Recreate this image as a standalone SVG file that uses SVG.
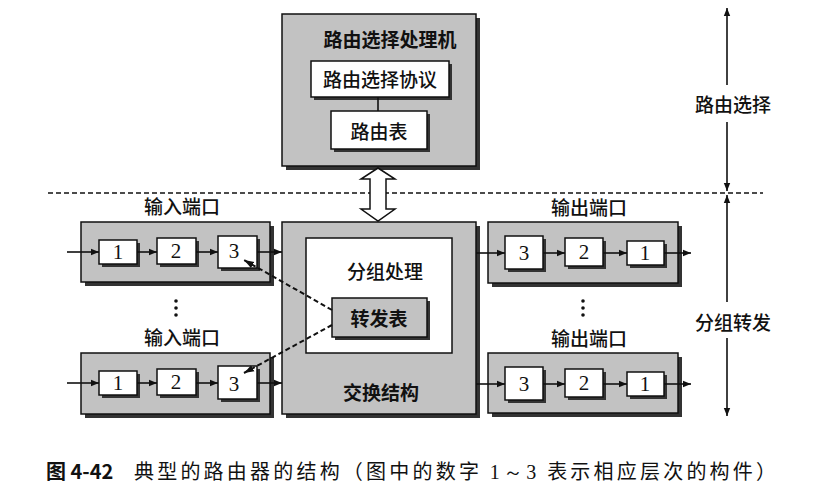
<svg xmlns="http://www.w3.org/2000/svg" width="827" height="500" viewBox="0 0 827 500">
<style>
.bg{fill:#c2c2c2;stroke:#111;stroke-width:1.5}
.sh{fill:#333}
.wb{fill:#fff;stroke:#111;stroke-width:1.5}
.gb{fill:#c2c2c2;stroke:#111;stroke-width:1.5}
.ln{stroke:#111;stroke-width:1.6;fill:none}
.dash{stroke:#111;stroke-width:2;stroke-dasharray:5 3;fill:none}
.hd{stroke:#111;stroke-width:1.3;stroke-dasharray:5 3;fill:none}
.t{font-family:"Noto Sans CJK SC","Noto Sans",sans-serif;font-size:19px;fill:#111;text-anchor:middle;font-weight:500}
.tb{font-family:"Noto Sans CJK SC","Noto Sans",sans-serif;font-size:19px;fill:#111;text-anchor:middle;font-weight:bold}
.n{font-family:"Liberation Serif",serif;font-size:21px;fill:#111;text-anchor:middle}
.cap{font-family:"Noto Sans CJK SC","Noto Sans",sans-serif;font-size:20px;fill:#111}
</style>
<defs>
<marker id="ar" viewBox="0 0 10 10" refX="10" refY="5" markerWidth="8" markerHeight="8" markerUnits="userSpaceOnUse" orient="auto">
<path d="M0,1 L10,5 L0,9 z" fill="#111"/>
</marker>
<marker id="ar2" viewBox="0 0 10 10" refX="10" refY="5" markerWidth="10" markerHeight="10" markerUnits="userSpaceOnUse" orient="auto">
<path d="M0,1.5 L10,5 L0,8.5 z" fill="#111"/>
</marker>
</defs>
<rect width="827" height="500" fill="#fff"/>

<!-- Routing processor -->
<g id="routing-processor">
<rect class="sh" x="286" y="18" width="194" height="152"/>
<rect class="bg" x="282" y="14" width="194" height="152"/>
<text class="tb" x="390" y="47">路由选择处理机</text>
</g>
<g id="routing-protocol">
<rect class="sh" x="314" y="64" width="138" height="36"/>
<rect class="wb" x="311" y="61" width="138" height="36"/>
<text class="t" x="380" y="87">路由选择协议</text>
</g>
<g id="routing-table">
<rect class="sh" x="334" y="114" width="96" height="38"/>
<rect class="wb" x="331" y="111" width="96" height="38"/>
<text class="t" x="379" y="139">路由表</text>
</g>

<!-- Switch fabric -->
<g id="switch-fabric">
<rect class="sh" x="286" y="226" width="194" height="192"/>
<rect class="bg" x="282" y="222" width="194" height="192"/>
<text class="tb" x="381" y="400">交换结构</text>
</g>
<g id="packet-processing">
<rect class="wb" x="306" y="238" width="146" height="115"/>
<text class="t" x="385" y="279">分组处理</text>
</g>
<g id="forwarding-table">
<rect class="sh" x="335" y="301" width="95" height="39"/>
<rect class="gb" x="332" y="298" width="95" height="39"/>
<text class="tb" x="379" y="326">转发表</text>
</g>

<!-- Input ports -->
<g id="input-port-1">
<rect class="sh" x="85" y="226" width="189" height="60"/>
<rect class="bg" x="81" y="222" width="189" height="60"/>
<text class="t" x="182" y="214">输入端口</text>
<rect class="sh" x="102" y="243" width="38" height="24"/>
<rect class="wb" x="99" y="240" width="38" height="24"/>
<text class="n" x="118" y="259">1</text>
<rect class="sh" x="160" y="241" width="39" height="26"/>
<rect class="wb" x="157" y="238" width="39" height="26"/>
<text class="n" x="176" y="258">2</text>
<rect class="sh" x="221" y="239" width="39" height="32"/>
<rect class="wb" x="218" y="236" width="39" height="32"/>
<text class="n" x="234" y="258">3</text>
</g>
<g id="input-port-2">
<rect class="sh" x="85" y="357" width="189" height="61"/>
<rect class="bg" x="81" y="353" width="189" height="61"/>
<text class="t" x="182" y="345">输入端口</text>
<rect class="sh" x="102" y="374" width="38" height="24"/>
<rect class="wb" x="99" y="371" width="38" height="24"/>
<text class="n" x="118" y="390">1</text>
<rect class="sh" x="160" y="372" width="39" height="26"/>
<rect class="wb" x="157" y="369" width="39" height="26"/>
<text class="n" x="176" y="389">2</text>
<rect class="sh" x="221" y="369" width="39" height="33"/>
<rect class="wb" x="218" y="366" width="39" height="33"/>
<text class="n" x="234" y="391">3</text>
</g>

<!-- Output ports -->
<g id="output-port-1">
<rect class="sh" x="492" y="226" width="190" height="61"/>
<rect class="bg" x="488" y="222" width="190" height="61"/>
<text class="t" x="589" y="215">输出端口</text>
<rect class="sh" x="508" y="239" width="38" height="33"/>
<rect class="wb" x="505" y="236" width="38" height="33"/>
<text class="n" x="524" y="260">3</text>
<rect class="sh" x="568" y="241" width="38" height="28"/>
<rect class="wb" x="565" y="238" width="38" height="28"/>
<text class="n" x="584" y="259">2</text>
<rect class="sh" x="630" y="244" width="37" height="24"/>
<rect class="wb" x="627" y="241" width="37" height="24"/>
<text class="n" x="645" y="260">1</text>
</g>
<g id="output-port-2">
<rect class="sh" x="492" y="357" width="190" height="60"/>
<rect class="bg" x="488" y="353" width="190" height="60"/>
<text class="t" x="589" y="346">输出端口</text>
<rect class="sh" x="508" y="370" width="38" height="33"/>
<rect class="wb" x="505" y="367" width="38" height="33"/>
<text class="n" x="524" y="391">3</text>
<rect class="sh" x="568" y="372" width="38" height="28"/>
<rect class="wb" x="565" y="369" width="38" height="28"/>
<text class="n" x="584" y="390">2</text>
<rect class="sh" x="630" y="375" width="37" height="24"/>
<rect class="wb" x="627" y="372" width="37" height="24"/>
<text class="n" x="645" y="391">1</text>
</g>

<g id="ellipsis">
<circle cx="176" cy="301" r="1.8" fill="#111"/>
<circle cx="176" cy="308" r="1.8" fill="#111"/>
<circle cx="176" cy="315" r="1.8" fill="#111"/>
<circle cx="583" cy="301" r="1.8" fill="#111"/>
<circle cx="583" cy="308" r="1.8" fill="#111"/>
<circle cx="583" cy="315" r="1.8" fill="#111"/>
</g>

<g id="layer-labels">
<text class="t" x="733" y="112">路由选择</text>
<text class="t" x="733" y="330">分组转发</text>
</g>

<!-- Connectors -->
<g id="connectors">
<line class="hd" x1="48" y1="193" x2="763" y2="193"/>
<line class="ln" x1="378" y1="97" x2="378" y2="111"/>
<polygon points="378,168 361,179 370,179 370,209 361,209 378,221 395,209 386,209 386,179 395,179" fill="#fff" stroke="#111" stroke-width="1.5"/>
<line class="ln" x1="67" y1="252" x2="99" y2="252" marker-end="url(#ar)"/>
<line class="ln" x1="137" y1="252" x2="157" y2="252" marker-end="url(#ar)"/>
<line class="ln" x1="196" y1="252" x2="218" y2="252" marker-end="url(#ar)"/>
<line class="ln" x1="257" y1="252" x2="282" y2="252" marker-end="url(#ar)"/>
<line class="ln" x1="67" y1="383" x2="99" y2="383" marker-end="url(#ar)"/>
<line class="ln" x1="137" y1="383" x2="157" y2="383" marker-end="url(#ar)"/>
<line class="ln" x1="196" y1="383" x2="218" y2="383" marker-end="url(#ar)"/>
<line class="ln" x1="257" y1="383" x2="282" y2="383" marker-end="url(#ar)"/>
<line class="ln" x1="476" y1="253" x2="505" y2="253" marker-end="url(#ar)"/>
<line class="ln" x1="543" y1="253" x2="565" y2="253" marker-end="url(#ar)"/>
<line class="ln" x1="603" y1="253" x2="627" y2="253" marker-end="url(#ar)"/>
<line class="ln" x1="664" y1="253" x2="691" y2="253" marker-end="url(#ar)"/>
<line class="ln" x1="476" y1="384" x2="505" y2="384" marker-end="url(#ar)"/>
<line class="ln" x1="543" y1="384" x2="565" y2="384" marker-end="url(#ar)"/>
<line class="ln" x1="603" y1="384" x2="627" y2="384" marker-end="url(#ar)"/>
<line class="ln" x1="664" y1="384" x2="691" y2="384" marker-end="url(#ar)"/>
<line class="dash" x1="332" y1="310" x2="244" y2="260" marker-end="url(#ar2)"/>
<line class="dash" x1="332" y1="325" x2="244" y2="373" marker-end="url(#ar2)"/>
<line class="ln" x1="727" y1="85" x2="727" y2="8" marker-end="url(#ar)"/>
<line class="ln" x1="727" y1="122" x2="727" y2="191" marker-end="url(#ar)"/>
<line class="ln" x1="727" y1="302" x2="727" y2="195" marker-end="url(#ar)"/>
<line class="ln" x1="727" y1="338" x2="727" y2="416" marker-end="url(#ar)"/>
</g>

<g id="caption">
<text class="cap" x="46" y="479" font-weight="bold">图 4-42</text>
<text class="cap" x="134" y="479" textLength="642" lengthAdjust="spacing">典型的路由器的结构（图中的数字 <tspan font-family="Liberation Serif, serif">1～3</tspan> 表示相应层次的构件）</text>
</g>
</svg>
